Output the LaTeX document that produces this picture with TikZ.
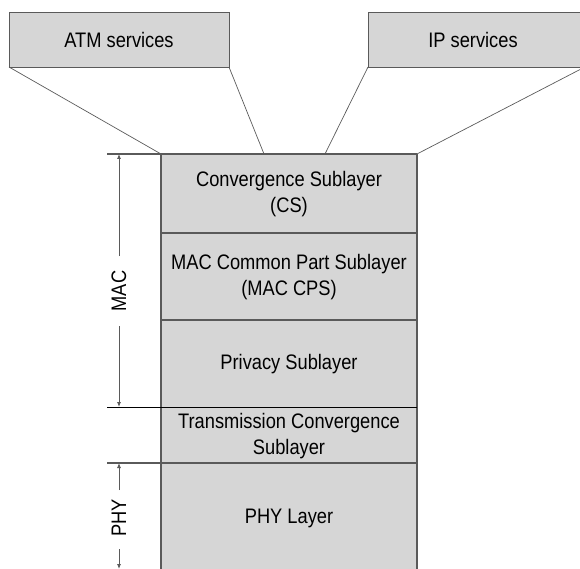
\documentclass[tikz,border=0pt]{standalone}
\usepackage{fontspec}
\setmainfont{Liberation Sans}[FakeStretch=0.87]
\usetikzlibrary{arrows.meta}
\definecolor{boxfill}{HTML}{D6D6D6}
\definecolor{edge}{HTML}{5A5A5A}
\tikzset{
  svcbox/.style={draw=edge, line width=0.9pt, fill=boxfill},
  layerline/.style={draw=edge, line width=1.1pt},
  sepline/.style={draw=black, line width=0.9pt},
  thin/.style={draw=edge, line width=0.7pt},
  lbl/.style={font=\fontsize{21}{26}\selectfont, align=center, inner sep=0pt},
  dimline/.style={draw=edge, line width=0.8pt},
  tip/.style={-{Latex[length=5pt,width=4pt]}},
}
\begin{document}
\begin{tikzpicture}[x=1pt,y=-1pt]
\useasboundingbox (0,0) rectangle (580,569);
% service boxes
\filldraw[svcbox] (9,12) rectangle (229,67);
\filldraw[svcbox] (368,12) rectangle (581,67);
\node[lbl] (atm) at (119,40) {ATM services};
\node[lbl] (ip) at (473,40) {IP services};
% stack fill
\fill[boxfill] (161,154) rectangle (417,570);
\coordinate (stl) at (161,154);
\coordinate (str) at (417,154);
\coordinate (atmbl) at (9,67);
\coordinate (atmbr) at (229,67);
\coordinate (ipbl) at (368,67);
\coordinate (ipbr) at (581,69);
\coordinate (ja) at (264,154);
\coordinate (jb) at (325,154);
% funnel lines
\draw[thin] (atmbl) -- (stl);
\draw[thin] (atmbr) -- (ja);
\draw[thin] (ipbl) -- (jb);
\draw[thin] (ipbr) -- (str);
% stack borders
\draw[layerline] (161,154) -- (161,570);
\draw[layerline] (417,154) -- (417,570);
\draw[layerline] (107,154) -- (417,154);
\draw[layerline] (161,233) -- (417,233);
\draw[layerline] (161,320) -- (417,320);
\draw[sepline] (107,407) -- (417,407);
\draw[layerline] (107,463) -- (417,463);
% layer labels
\node[lbl] (cs) at (289,194) {Convergence Sublayer\\(CS)};
\node[lbl] (cps) at (289,277) {MAC Common Part Sublayer\\(MAC CPS)};
\node[lbl] (priv) at (289,364) {Privacy Sublayer};
\node[lbl] (tc) at (289,436) {Transmission Convergence\\Sublayer};
\node[lbl] (phy) at (289,518) {PHY Layer};
% MAC dimension
\node[lbl, rotate=90] (mac) at (119,291) {MAC};
\coordinate (mactop) at (119,154);
\coordinate (macbot) at (119,407);
\draw[dimline, tip] (119,256) -- (mactop);
\draw[dimline, tip] (119,326) -- (macbot);
% PHY dimension
\node[lbl, rotate=90] (phyl) at (119,518) {PHY};
\coordinate (phytop) at (119,463);
\coordinate (phybot) at (119,569);
\draw[dimline, tip] (119,490) -- (phytop);
\draw[dimline, tip] (119,549) -- (phybot);
\end{tikzpicture}
\end{document}
